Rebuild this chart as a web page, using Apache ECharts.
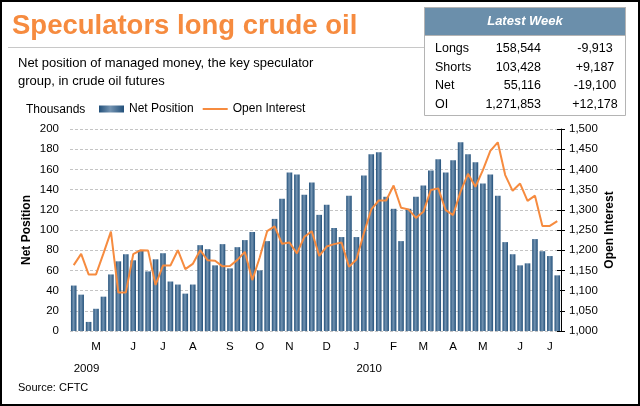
<!DOCTYPE html>
<html><head><meta charset="utf-8">
<script src="https://cdn.jsdelivr.net/npm/echarts@6/dist/echarts.min.js"></script>
<style>html,body{margin:0;padding:0;background:#fff}#c{width:640px;height:406px}</style>
</head><body><div id="c"></div>
<script>
// Net position of managed money (thousands of contracts), weekly
const netPosition = [45,36,9,22,34,56,69,76,70,80,59,71,77,49,46,37,46,85,81,65,86,62,83,90,98,60,89,111,131,157,155,135,147,115,125,102,93,134,93,154,175,177,133,121,89,121,133,144,159,170,157,169,187,175,167,146,155,134,88,76,65,67,91,79,74.2,55.1];
// Open interest (thousands of contracts), weekly
const openInterest = [1163,1191,1140,1140,1192,1246,1095,1095,1190,1200,1199,1114,1162,1162,1200,1153,1166,1200,1175,1174,1160,1161,1176,1196,1126,1182,1247,1259,1216,1219,1192,1233,1247,1186,1209,1215,1219,1159,1177,1242,1301,1323,1323,1360,1305,1301,1280,1295,1349,1353,1299,1287,1345,1389,1357,1398,1446,1467,1386,1347,1365,1322,1335,1260,1260,1272];
const monthTickIndex = [3,8,12,16,21,25,29,34,38,43,47,51,55,60,64];
const monthTickText = ['M','J','J','A','S','O','N','D','J','F','M','A','M','J','J'];
const yearTickIndex = [0,38];
const yearTickText = ['2009','2010'];
const tableRowLabels = ['Longs','Shorts','Net','OI'];
const tableLatest = ['158,544','103,428','55,116','1,271,853'];
const tableChange = ['-9,913','+9,187','-19,100','+12,178'];

const weeks = netPosition.map((_, i) => 'W' + (i + 1));
const monthFor = i => { const k = monthTickIndex.indexOf(i); return k >= 0 ? monthTickText[k] : ''; };
const yearFor = i => { const k = yearTickIndex.indexOf(i); return k >= 0 ? yearTickText[k] : ''; };

const FONT = '"Liberation Sans", Arial, sans-serif';
const ORANGE = '#f68b3f';
const barGrad = new echarts.graphic.LinearGradient(0, 0, 1, 0, [
  {offset: 0, color: '#22507a'},
  {offset: 0.45, color: '#7393b1'},
  {offset: 1, color: '#22507a'}
]);

const rowY = [49, 68, 86, 105];
const tableGraphics = [];
tableRowLabels.forEach((t, i) => {
  tableGraphics.push({type: 'text', style: {text: t, x: 435, y: rowY[i], align: 'left', verticalAlign: 'middle', fill: '#000', font: '12.5px ' + FONT}});
  tableGraphics.push({type: 'text', style: {text: tableLatest[i], x: 541, y: rowY[i], align: 'right', verticalAlign: 'middle', fill: '#000', font: '12.5px ' + FONT}});
  tableGraphics.push({type: 'text', style: {text: tableChange[i], x: 595, y: rowY[i], align: 'center', verticalAlign: 'middle', fill: '#000', font: '12.5px ' + FONT}});
});

const chart = echarts.init(document.getElementById('c'), null, {renderer: 'canvas'});
chart.setOption({
  animation: false,
  backgroundColor: '#fff',
  textStyle: {fontFamily: FONT},
  grid: {left: 70, right: 79, top: 129, bottom: 75, containLabel: false},
  legend: {
    left: 99, top: 103, padding: 0, itemWidth: 25, itemHeight: 7, itemGap: 8,
    textStyle: {fontSize: 12, color: '#000', fontFamily: FONT},
    data: [
      {name: 'Net Position', icon: 'rect'},
      {name: 'Open Interest', itemStyle: {opacity: 0, borderWidth: 0}}
    ]
  },
  xAxis: [
    {type: 'category', data: weeks, position: 'bottom',
     axisLine: {show: false}, axisTick: {show: false},
     axisLabel: {interval: 0, margin: 10, fontSize: 11.5, color: '#000', formatter: (v, i) => monthFor(i)}},
    {type: 'category', data: weeks, position: 'bottom', offset: 22,
     axisLine: {show: false}, axisTick: {show: false},
     axisLabel: {interval: 0, margin: 10, fontSize: 11.5, color: '#000', align: 'left', formatter: (v, i) => yearFor(i)}}
  ],
  yAxis: [
    {type: 'value', min: 0, max: 200, interval: 20, position: 'left',
     name: 'Net Position', nameLocation: 'middle', nameGap: 37, nameRotate: 90, nameMoveOverlap: false,
     nameTextStyle: {fontWeight: 'bold', fontSize: 12, color: '#000'},
     axisLine: {show: false}, axisTick: {show: false},
     axisLabel: {margin: 11, fontSize: 11.5, color: '#000'},
     splitLine: {show: true, lineStyle: {color: '#c4c4c4', type: [3, 2], width: 1}}},
    {type: 'value', min: 1000, max: 1500, interval: 50, position: 'right',
     name: 'Open Interest', nameLocation: 'middle', nameGap: 43, nameRotate: 90, nameMoveOverlap: false,
     nameTextStyle: {fontWeight: 'bold', fontSize: 12, color: '#000'},
     axisLine: {show: true, lineStyle: {color: '#000', width: 1}},
     axisTick: {show: true, inside: false, length: 4, lineStyle: {color: '#000'}},
     axisLabel: {margin: 8, fontSize: 11.5, color: '#000', formatter: v => v.toLocaleString('en-US')},
     splitLine: {show: false}},
    {type: 'value', min: 1000, max: 1500, interval: 50, position: 'right',
     axisLine: {show: false}, axisTick: {show: true, inside: true, length: 4, lineStyle: {color: '#000'}},
     axisLabel: {show: false}, splitLine: {show: false}}
  ],
  series: [
    {name: 'Net Position', type: 'bar', data: netPosition, xAxisIndex: 0, yAxisIndex: 0,
     barWidth: '75%', itemStyle: {color: barGrad}},
    {name: 'Open Interest', type: 'line', data: openInterest, xAxisIndex: 0, yAxisIndex: 1,
     symbol: 'none', lineStyle: {color: ORANGE, width: 2}, itemStyle: {color: ORANGE}, z: 3}
  ],
  graphic: [
    {type: 'rect', shape: {x: 1, y: 1, width: 638, height: 404}, style: {fill: 'none', stroke: '#000', lineWidth: 2}, silent: true},
    {type: 'text', style: {text: 'Speculators long crude oil', x: 12, y: 26, verticalAlign: 'middle', fill: ORANGE, font: 'bold 27.5px ' + FONT}},
    {type: 'line', shape: {x1: 8, y1: 47.5, x2: 424, y2: 47.5}, style: {stroke: '#c8c8c8', lineWidth: 1}},
    {type: 'text', style: {text: 'Net position of managed money, the key speculator\ngroup, in crude oil futures', x: 18, y: 54, verticalAlign: 'top', lineHeight: 18, fill: '#000', font: '13px ' + FONT}},
    {type: 'text', style: {text: 'Thousands', x: 26, y: 110, verticalAlign: 'middle', fill: '#000', font: '12px ' + FONT}},
    {type: 'text', style: {text: 'Source: CFTC', x: 18, y: 388, verticalAlign: 'middle', fill: '#000', font: '11px ' + FONT}},
    {type: 'rect', shape: {x: 424.5, y: 7.5, width: 201, height: 108}, style: {fill: '#fff', stroke: '#b4b4b4', lineWidth: 1}},
    {type: 'rect', shape: {x: 424.5, y: 7.5, width: 201, height: 28}, style: {fill: '#6b8fab', stroke: '#b4b4b4', lineWidth: 1}},
    {type: 'text', style: {text: 'Latest Week', x: 525, y: 21.5, align: 'center', verticalAlign: 'middle', fill: '#fff', font: 'italic bold 13px ' + FONT}}
  ].concat(tableGraphics)
});
</script></body></html>
